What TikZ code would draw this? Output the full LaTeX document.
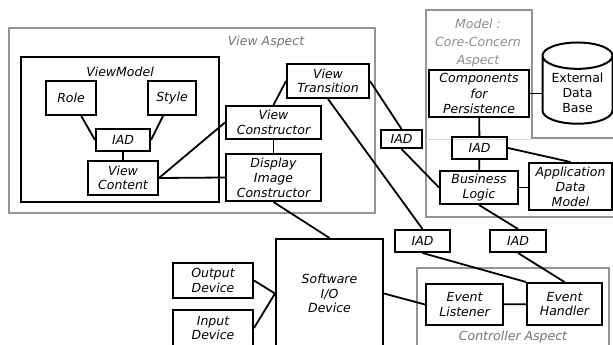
\documentclass[tikz,border=0pt]{standalone}
\usepackage{fontspec}
\setmainfont{DejaVu Sans}
\usetikzlibrary{shapes.geometric}
\tikzstyle{Block} = [draw, rectangle, line width=2pt, inner sep=0pt, align=center, font=\itshape\fontsize{12.5}{14.5}\selectfont]
\tikzstyle{Frame} = [draw, rectangle, line width=1.9pt, inner sep=0pt]
\tikzstyle{Aspect} = [draw=black!42, line width=1.8pt]
\tikzstyle{Title} = [text=black!55, align=center, font=\itshape\fontsize{12.5}{18}\selectfont]
\tikzstyle{Link} = [line width=1.8pt]

\begin{document}
\begin{tikzpicture}[x=1pt, y=-1pt]
    \useasboundingbox (0,0) rectangle (613,345);
    \clip (0,0) rectangle (613,345);
    % aspects
    \node[Frame, Aspect, minimum width=366pt, minimum height=185pt] (viewaspect) at (192,120.5) {};
    \node[Title] (viewlabel) at (266,42) {View Aspect};
    \draw[Aspect] (614,138) -- (532,138) -- (532,10) -- (426,10) -- (426,217) -- (614,217);
    \draw[draw=black!15, line width=1pt] (426,139) -- (532,139);
    \node[Title, text=black!45] (modellabel) at (478,43) {Model :\\Core-Concern\\Aspect};
    \node[Frame, Aspect, minimum width=192pt, minimum height=90pt] (ctrlaspect) at (513,313) {};
    \node[Title] (ctrllabel) at (513,337) {Controller Aspect};
    % view model
    \node[Frame, minimum width=198pt, minimum height=145pt] (viewmodel) at (120,129.5) {};
    \node[font=\itshape\fontsize{12.5}{14.5}\selectfont] (vmlabel) at (120,72) {ViewModel};
    \node[Block, minimum width=50pt, minimum height=34pt] (role)    at (71,98)    {Role};
    \node[Block, minimum width=48pt, minimum height=34pt] (style)   at (172,98)   {Style};
    \node[Block, minimum width=54pt, minimum height=22pt] (iadvm)   at (123,140)  {IAD};
    \node[Block, minimum width=70pt, minimum height=34pt] (content) at (123,178)  {View\\Content};
    % view side
    \node[Block, minimum width=82pt, minimum height=34pt] (transition) at (328,81)    {View\\Transition};
    \node[Block, minimum width=95pt, minimum height=33pt] (construct)  at (273.5,122.5) {View\\Constructor};
    \node[Block, minimum width=95pt, minimum height=47pt, font=\itshape\fontsize{12.5}{15}\selectfont] (display) at (273.5,177.5) {Display\\Image\\Constructor};
    \node[Block, minimum width=41pt, minimum height=18pt] (iadview) at (401.5,139) {IAD};
    % model side
    \node[Block, minimum width=100pt, minimum height=47pt, font=\itshape\fontsize{12.5}{15.5}\selectfont] (persist) at (479,93.5) {Components\\for\\Persistence};
    \node[cylinder, draw, shape border rotate=90, aspect=0.45, line width=2pt, minimum width=70pt, minimum height=70pt, align=center, font=\fontsize{12.5}{15}\selectfont] (database) at (577.5,93) {External\\Data\\Base};
    \node[Block, minimum width=55pt, minimum height=22pt] (iadmodel) at (479.5,148) {IAD};
    \node[Block, minimum width=78pt, minimum height=33pt] (business) at (479,187.5) {Business\\Logic};
    \node[Block, minimum width=83pt, minimum height=47pt, font=\itshape\fontsize{12.5}{15}\selectfont] (appdata) at (570.5,186.5) {Application\\Data\\Model};
    % controller side
    \node[Block, minimum width=55pt, minimum height=22pt] (iadlisten) at (422.5,241) {IAD};
    \node[Block, minimum width=56pt, minimum height=22pt] (iadhandle) at (518,241)   {IAD};
    \node[Block, minimum width=77pt, minimum height=41pt] (listener)  at (464.5,304.5) {Event\\Listener};
    \node[Block, minimum width=75pt, minimum height=42pt] (handler)   at (564.5,304)   {Event\\Handler};
    % devices
    \node[Block, minimum width=107pt, minimum height=109pt] (software) at (329.5,293.5) {Software\\I/O\\Device};
    \node[Block, minimum width=80pt, minimum height=35pt] (output) at (213,280.5) {Output\\Device};
    \node[Block, minimum width=80pt, minimum height=36pt] (input)  at (213,328)   {Input\\Device};
    % connections
    \draw[Link] (role)    -- (iadvm.west);
    \draw[Link] (style)   -- (iadvm.east);
    \draw[Link] (iadvm)   -- (content);
    \draw[Link] (content.east) -- (display.west);
    \draw[Link] (content.east) -- (construct.west);
    \draw[Link] (construct) -- (display);
    \draw[Link] (construct.north) -- (transition.west);
    \draw[Link] (transition.east) -- (iadview.north);
    \draw[Link] (iadview.south) -- (business.west);
    \draw[Link] (transition.south) -- (iadlisten.north);
    \draw[Link] (iadlisten.south) -- (handler.north west);
    \draw[Link] (iadhandle.south) -- (handler.north);
    \draw[Link] (business.south) -- (iadhandle.north);
    \draw[Link] (persist) -- (iadmodel);
    \draw[Link] (persist.east) -- (persist.east -| database.west);
    \draw[Link] (iadmodel) -- (business);
    \draw[Link] (iadmodel.east) -- (appdata.north);
    \draw[Link] (business.east) -- (business.east -| appdata.west);
    \draw[Link] (display.south) -- (software.north);
    \draw[Link] (output.east) -- (software.west);
    \draw[Link] (input.east) -- (software.west);
    \draw[Link] (software.east) -- (listener.west);
    \draw[Link] (listener) -- (handler);
\end{tikzpicture}
\end{document}
